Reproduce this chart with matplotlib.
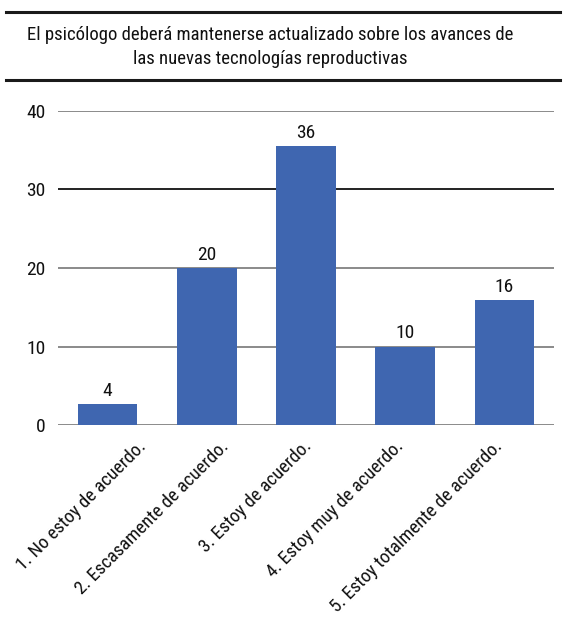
"""
Gráfico de barras: actualización del psicólogo sobre nuevas tecnologías reproductivas
"""

import matplotlib.pyplot as plt
from matplotlib.lines import Line2D
from matplotlib.transforms import ScaledTranslation

plt.rcParams["font.family"] = ["Roboto Condensed", "DejaVu Sans"]

# datos
categories = ["1. No estoy de acuerdo.", "2. Escasamente de acuerdo.",
              "3. Estoy de acuerdo.", "4. Estoy muy de acuerdo.",
              "5. Estoy totalmente de acuerdo."]
bar_heights = [2.7, 20, 35.5, 10, 15.9]
value_labels = ["4", "20", "36", "10", "16"]
y_ticks = [0, 10, 20, 30, 40]

title = ("El psicólogo deberá mantenerse actualizado sobre los avances de\n"
         "las nuevas tecnologías reproductivas")

# desplazamiento horizontal (px) del final de cada etiqueta rotada
label_dx = [39, 23, 6, -1, -1]

W, H, DPI = 564, 621, 100
TXT = "#111111"
fig = plt.figure(figsize=(W / DPI, H / DPI), dpi=DPI)
ax = fig.add_axes([58 / W, 1 - 425 / H, (554 - 58) / W, (425 - 111) / H])

x = list(range(len(categories)))
ax.bar(x, bar_heights, width=0.6, color="#3F66B0", zorder=3)

for xi, h, lab in zip(x, bar_heights, value_labels):
    ax.annotate(lab, (xi, h), xytext=(0, 3), textcoords="offset points",
                ha="center", va="bottom", fontsize=14, color=TXT)

ax.set_xlim(-0.5, 4.5)
ax.set_ylim(0, 40)
ax.set_yticks(y_ticks)
ax.set_yticklabels([str(t) for t in y_ticks], fontsize=14, color=TXT)
ax.tick_params(axis="y", length=0, pad=9)
ax.set_xticks([])
for s in ax.spines.values():
    s.set_visible(False)

for t in y_ticks:
    col = "#222222" if t == 30 else "#8a8a8a"
    ax.axhline(t, color=col, linewidth=1.4, zorder=1)

# etiquetas de categoría rotadas
for xi, lab, dx in zip(x, categories, label_dx):
    tr = ax.get_xaxis_transform() + ScaledTranslation(dx / DPI, -22 / DPI,
                                                      fig.dpi_scale_trans)
    ax.text(xi, 0, lab, transform=tr, rotation=45, rotation_mode="anchor",
            ha="right", va="baseline", fontsize=13.5, color=TXT)

# título entre dos líneas
fig.text(270 / W, 1 - 47 / H, title, ha="center", va="center", fontsize=13.5,
         color=TXT, linespacing=1.45)
for yy in (12, 80):
    fig.add_artist(Line2D([6 / W, 560 / W], [1 - yy / H, 1 - yy / H],
                          transform=fig.transFigure, color="#1a1a1a",
                          linewidth=2.2))

fig.savefig("out.png", dpi=DPI)
